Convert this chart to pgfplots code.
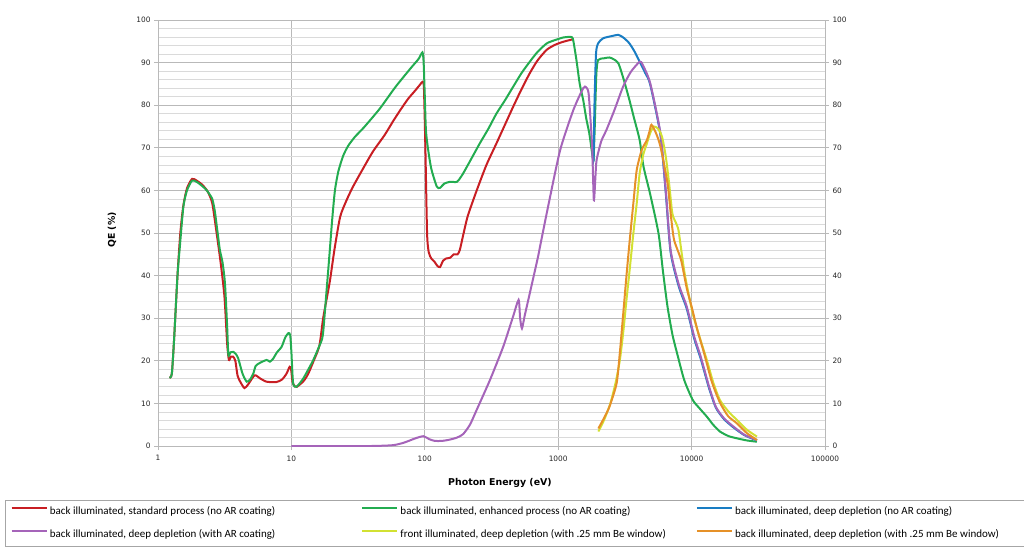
\documentclass[border=0pt]{standalone}
\usepackage{fontspec}
\setmainfont{Carlito}
\newfontfamily\dejavu{DejaVu Sans}
\usepackage{pgfplots}
\pgfplotsset{compat=1.18}
\definecolor{cRed}{RGB}{200,30,35}
\definecolor{cGreen}{RGB}{35,172,80}
\definecolor{cBlue}{RGB}{25,125,195}
\definecolor{cPurple}{RGB}{165,100,185}
\definecolor{cYellow}{RGB}{210,225,50}
\definecolor{cOrange}{RGB}{230,145,40}
\definecolor{gMaj}{RGB}{185,185,185}
\definecolor{gMin}{RGB}{218,218,218}
\begin{document}
\begin{tikzpicture}[x=1pt,y=1pt]
\useasboundingbox (0,0) rectangle (1024,559);
\begin{axis}[
  at={(158pt,113pt)}, anchor=south west,
  scale only axis, width=667pt, height=426pt,
  xmode=log, log basis x=10,
  xmin=1, xmax=100000, ymin=0, ymax=100,
  xtick={1,10,100,1000,10000,100000},
  xticklabels={1,10,100,1000,10000,100000},
  ytick={0,10,...,100},
  minor ytick={2,4,...,98},
  grid=both,
  major grid style={gMaj, line width=0.7pt},
  minor grid style={gMin, line width=0.6pt},
  axis line style={gMaj, line width=0.7pt},
  tick style={gMaj, line width=0.7pt},
  major tick length=4pt, minor tick length=0pt,
  tick align=outside,
  ytick pos=left, xtick pos=bottom,
  tick label style={font=\dejavu\fontsize{7.4}{8}\selectfont, text=black!85},
  xticklabel style={yshift=-2pt},
  /pgf/number format/assume math mode=true,
  xlabel={\textbf{Photon Energy (eV)}},
  ylabel={\textbf{QE (\%)}},
  xlabel style={at={(axis description cs:0.5127,-0.0869)}, anchor=center, font=\dejavu\fontsize{9.4}{11}\selectfont},
  ylabel style={at={(axis description cs:-0.069,0.507)}, anchor=center, font=\dejavu\fontsize{9.3}{11}\selectfont},
  legend style={at={(axis description cs:-0.2294,-0.1268)}, anchor=north west,
    draw=gray!70, line width=0.6pt, fill=white,
    inner xsep=5pt, inner ysep=6pt, row sep=12.5pt,
    font=\fontsize{11}{12}\selectfont,
    /tikz/every even column/.append style={column sep=0pt},
    nodes={inner xsep=2pt, inner ysep=0pt, text height=8pt, text depth=2.5pt}},
  legend columns=3,
  legend cell align=left,
  legend image code/.code={\draw[#1, line width=2.6pt] (0pt,3.5pt) -- (35pt,3.5pt);},
  every axis plot/.append style={line width=2pt, smooth, tension=0.4},
]
% back illuminated, standard process
\addplot[cRed] coordinates {
(1.22,16) (1.27,17) (1.32,25) (1.4,40) (1.47,50) (1.55,56.5) (1.65,60.5) (1.8,62.7)
(1.95,62.3) (2.15,61.3) (2.35,59.8) (2.55,57) (2.75,50) (2.95,43) (3.15,35) (3.3,24)
(3.4,20.2) (3.52,21) (3.65,21) (3.8,20) (3.95,16.5) (4.15,15) (4.45,13.6) (4.75,14.5)
(5.3,16.6) (5.8,15.9) (6.5,15.1) (7.7,15) (8.5,15.6) (9.2,17) (9.7,18.6) (9.95,18)
(10.2,15) (10.6,14) (11,13.9) (12.3,15.2) (13.3,16.8) (14.6,19.8) (16.2,23.5) (17.3,30)
(18.5,35) (19.5,39) (21,46) (23.2,53.8) (26,57.8) (29.1,61) (35,65.5) (41,69.2)
(50,73) (58,76.3) (66,79) (75,81.5) (84,83.3) (92,84.8) (96.4,85.5) (98.5,84)
(101,70) (104,50) (107,45.5) (112,44) (118,43.3) (124,42.3) (130,42) (137,43.5)
(144,44) (155,44.2) (165,45) (176,45) (183,46) (194,49.5) (210,54) (245,60)
(290,66) (344,71) (400,75.5) (459,79.6) (530,83.7) (612,87.5) (700,90.5) (820,93)
(950,94.2) (1095,94.9) (1300,95.5)
};
\addlegendentry{\makebox[309pt][l]{back illuminated, standard process (no AR coating)}}
% enhanced process
\addplot[cGreen] coordinates {
(1.22,16) (1.27,17) (1.32,25) (1.4,40) (1.46,47) (1.55,56.2) (1.65,60) (1.8,62.3)
(1.95,62) (2.15,61) (2.32,60) (2.55,58) (2.67,55) (2.8,50) (2.91,46) (3.05,43)
(3.18,38) (3.3,28) (3.37,21.4) (3.5,22) (3.67,22.1) (3.85,21.5) (4.0,20.5) (4.3,17)
(4.62,15.1) (4.9,15.6) (5.18,17) (5.4,18.8) (5.8,19.5) (6.52,20.2) (6.9,19.8) (7.3,20.5)
(7.76,21.9) (8.45,23.3) (9.0,25.5) (9.5,26.5) (9.8,26) (10.0,22) (10.3,14.7) (10.9,13.9)
(11.6,14.8) (12.3,15.9) (13.3,17.8) (14.6,20.2) (16.2,23.5) (17.2,26) (18.3,36) (19.3,45)
(20.2,53) (21.2,60) (22.5,64.5) (24.5,68.2) (26.7,70.5) (30,72.6) (35,74.8) (46,79.2)
(60,84.2) (78,88.6) (90,90.9) (96,92.4) (98,90) (100,82) (102,74) (106,69.5)
(112,65) (123,60.9) (130,60.6) (140,61.6) (154,62) (174,62) (185,63) (194,64)
(215,66.5) (258,71) (300,74.5) (344,78) (400,81.2) (459,84.3) (530,87.5) (612,90.2)
(700,92.5) (820,94.5) (950,95.3) (1095,95.9) (1262,96) (1300,95) (1370,90.6) (1450,85)
(1540,81.2) (1620,77) (1710,73.4) (1800,68.5) (1839,67) (1880,75) (1930,87) (1990,90.6)
(2200,91) (2420,91.2) (2600,90.8) (2830,89.8) (3100,86) (3420,81.2) (3700,77) (4080,71.8)
(4360,65.6) (4900,59) (5650,49.9) (6100,41) (6600,32.7) (7200,26) (7780,21.8) (8800,15.5)
(10200,10.8) (11500,8.8) (13000,6.9) (14500,5) (16300,3.4) (19000,2.3) (21900,1.8) (26000,1.3)
(30900,1.0)
};
\addlegendentry{\makebox[293pt][l]{back illuminated, enhanced process (no AR coating)}}
% deep depletion no AR
\addplot[cBlue] coordinates {
(1810,69) (1839,67) (1870,80) (1920,92) (1990,94.5) (2170,95.7) (2500,96.2) (2830,96.5)
(3100,95.8) (3420,94.5) (3750,92.5) (4080,90.2) (4500,87.5) (4900,84.8) (5840,73)
(6400,59.5) (6960,45.5) (8000,37.5) (9200,32.2) (10500,25) (11700,20.5) (13500,13.6)
(15200,9) (17500,6.3) (20700,4.3) (25000,2.5) (30900,1.3)
};
\addlegendentry{\makebox[286pt][l]{back illuminated, deep depletion (no AR coating)}}
% deep depletion with AR
\addplot[cPurple] coordinates {
(10,0) (20,0) (40,0) (58,0.2) (70,0.8) (85,1.8) (97.6,2.3) (108,1.6)
(119,1.2) (135,1.2) (154,1.5) (175,2.0) (194,2.8) (218,5) (245,8.5) (308,15.5)
(387,23.3) (459,30.4) (505,34.3) (518,30) (535,27.6) (560,30.5) (612,35.8) (707,44.5)
(733,47) (850,57) (1035,69.5) (1300,78.9) (1540,84) (1620,84.2) (1690,82.8) (1760,75)
(1800,69.5) (1850,57.7) (1900,63) (1940,67.1) (2100,71.5) (2300,74.2) (2650,79) (3060,84.3)
(3500,87.8) (4080,90.2) (4300,89.5) (4900,85.1) (5840,73.4) (6400,60) (6960,46) (8000,38)
(9200,32.7) (10500,25.5) (11700,21) (13500,14) (15200,9.2) (17500,6.5) (20700,4.5) (25000,2.6)
(30900,1.4)
};
\addlegendentry{back illuminated, deep depletion (with AR coating)}
% front illuminated, Be window
\addplot[cYellow] coordinates {
(2000,3.4) (2200,6) (2460,10) (2700,15) (2900,20.2) (3080,27) (3250,34.3) (3450,42)
(3660,49.9) (3880,57) (4080,64) (4350,68.5) (4620,71) (4900,73.5) (5200,75) (5600,74.5)
(6000,72.6) (6400,68) (6780,61.7) (7170,54.6) (7600,52.5) (7970,50.7) (8450,45) (8960,39.7)
(10200,31.1) (11500,25.5) (13000,20.2) (14500,15) (16300,10.8) (19000,8) (21900,6.1) (26000,3.8)
(30900,2.2)
};
\addlegendentry{front illuminated, deep depletion (with .25 mm Be window)}
% back illuminated, Be window
\addplot[cOrange] coordinates {
(2000,4.1) (2200,6.5) (2420,9.2) (2740,14.7) (2900,22) (3060,30.4) (3250,40) (3440,48.4)
(3660,57) (3880,64.8) (4230,69.5) (4620,71.8) (4850,74) (5000,75.4) (5400,73.5) (5840,70.3)
(6600,61.7) (7000,54) (7390,48.4) (8330,43.7) (9200,37) (10000,32.7) (11100,27) (12400,21.8)
(14200,15) (16300,10.2) (18800,7) (21900,5.3) (26000,3) (30900,1.4)
};
\addlegendentry{back illuminated, deep depletion (with .25 mm Be window)}
\end{axis}
\begin{axis}[
  at={(158pt,113pt)}, anchor=south west,
  scale only axis, width=667pt, height=426pt,
  xmode=log, xmin=1, xmax=100000, ymin=0, ymax=100,
  axis x line=none, axis y line*=right,
  ytick={0,10,...,100},
  axis line style={gMaj, line width=0.7pt},
  tick style={gMaj, line width=0.7pt},
  major tick length=4pt, tick align=outside,
  tick label style={font=\dejavu\fontsize{7.4}{8}\selectfont, text=black!85},
  /pgf/number format/assume math mode=true,
]
\end{axis}
\end{tikzpicture}
\end{document}
